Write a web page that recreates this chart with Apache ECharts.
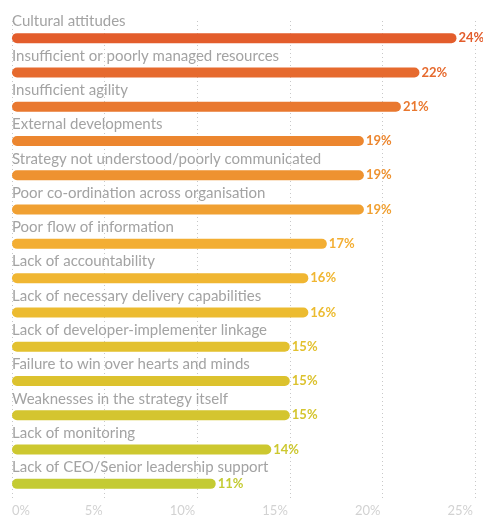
<!DOCTYPE html>
<html>
<head>
<meta charset="utf-8">
<script src="https://cdn.jsdelivr.net/npm/echarts@6/dist/echarts.min.js"></script>
<style>html,body{margin:0;padding:0;background:#fff;}#c{width:483px;height:519px;}</style>
</head>
<body>
<div id="c"></div>
<script>
const categories = [
  "Cultural attitudes",
  "Insufficient or poorly managed resources",
  "Insufficient agility",
  "External developments",
  "Strategy not understood/poorly communicated",
  "Poor co-ordination across organisation",
  "Poor flow of information",
  "Lack of accountability",
  "Lack of necessary delivery capabilities",
  "Lack of developer-implementer linkage",
  "Failure to win over hearts and minds",
  "Weaknesses in the strategy itself",
  "Lack of monitoring",
  "Lack of CEO/Senior leadership support"
];
const values = [24, 22, 21, 19, 19, 19, 17, 16, 16, 15, 15, 15, 14, 11];
const barColors = [
  "#e35d2c", "#e66a2e", "#e9782f", "#ec862f", "#ee9230", "#f0a032",
  "#f3ae33", "#f0b632", "#ecbb30", "#e3c12f", "#dcc22e", "#d4c52f",
  "#cdc830", "#c4cb33"
];
const xTicks = [0, 5, 10, 15, 20, 25];

const chart = echarts.init(document.getElementById('c'));
chart.setOption({
  animation: false,
  grid: { left: 12, right: 8, top: 21, bottom: 18, containLabel: false, outerBoundsMode: 'none' },
  xAxis: {
    type: 'value', min: 0, max: 25, interval: 5,
    axisLine: { show: false }, axisTick: { show: false },
    splitLine: { show: true, lineStyle: { type: [1, 3], color: '#c8c8c8', width: 1 } },
    axisLabel: {
      color: '#d2d2d2', fontFamily: 'Lato', fontSize: 13, margin: 3,
      align: 'right', alignMinLabel: 'left', padding: [0, 2, 0, 0],
      formatter: v => xTicks.includes(v) ? v + '%' : ''
    }
  },
  yAxis: {
    type: 'category', data: categories, inverse: true,
    axisLine: { show: false }, axisTick: { show: false },
    axisLabel: {
      inside: true, align: 'left', verticalAlign: 'bottom', margin: 0,
      padding: [0, 0, 9, 0],
      color: '#a3a3a3', fontFamily: 'Lato', fontSize: 15
    }
  },
  series: [{
    type: 'bar',
    data: values.map((v, i) => ({ value: v, itemStyle: { color: barColors[i] }, label: { color: barColors[i] } })),
    barWidth: 10,
    itemStyle: { borderRadius: 5 },
    label: {
      show: true, position: 'right', distance: 2,
      fontFamily: 'Lato', fontSize: 13, fontWeight: 'bold',
      formatter: p => p.value + '%'
    }
  }]
});
</script>
</body>
</html>
